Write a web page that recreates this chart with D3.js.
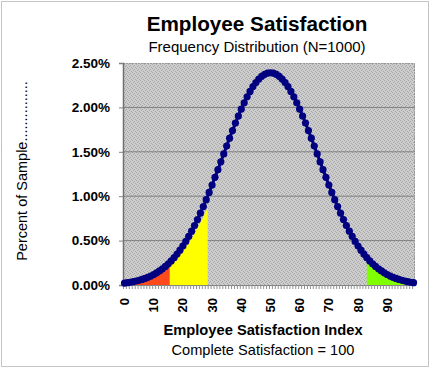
<!DOCTYPE html>
<html>
<head>
<meta charset="utf-8">
<script src="https://cdn.jsdelivr.net/npm/d3@7"></script>
<style>
  body { margin: 0; background: #fff; }
  svg { display: block; font-family: Arial, "Liberation Sans", sans-serif; }
</style>
</head>
<body>
<script>
// satisfaction index categories 0..99
index = [0,1,2,3,4,5,6,7,8,9,10,11,12,13,14,15,16,17,18,19,20,21,22,23,24,25,26,27,28,29,
  30,31,32,33,34,35,36,37,38,39,40,41,42,43,44,45,46,47,48,49,50,51,52,53,54,55,56,57,58,59,
  60,61,62,63,64,65,66,67,68,69,70,71,72,73,74,75,76,77,78,79,80,81,82,83,84,85,86,87,88,89,
  90,91,92,93,94,95,96,97,98,99];

// percent of sample
percent = [0.022,0.026,0.031,0.037,0.045,0.053,0.063,0.074,0.086,0.101,
  0.118,0.137,0.158,0.182,0.209,0.238,0.271,0.308,0.348,0.392,
  0.439,0.491,0.547,0.606,0.670,0.737,0.809,0.883,0.961,1.042,
  1.126,1.212,1.299,1.387,1.476,1.565,1.653,1.739,1.823,1.903,
  1.980,2.052,2.119,2.180,2.234,2.280,2.319,2.350,2.372,2.386,
  2.390,2.386,2.372,2.350,2.319,2.280,2.234,2.180,2.119,2.052,
  1.980,1.903,1.823,1.739,1.653,1.565,1.476,1.387,1.299,1.212,
  1.126,1.042,0.961,0.883,0.809,0.737,0.670,0.606,0.547,0.491,
  0.439,0.392,0.348,0.308,0.271,0.238,0.209,0.182,0.158,0.137,
  0.118,0.101,0.086,0.074,0.063,0.053,0.045,0.037,0.031,0.026];

// shaded bands (first category + heights)
redFrom = 4;
redFill = [0.030,0.042,0.050,0.060,0.070,0.082,0.096,0.112,0.130,0.150,0.172,0.198,0.226];
yellowFrom = 15.5;
yellowFill = [0.25,0.26,0.29,0.32,0.36,0.40,0.45,0.50,0.55,0.61,0.67,0.73,0.80,0.87];
greenFrom = 83;
greenFill = [0.27,0.23,0.20,0.17,0.15,0.13,0.11,0.09,0.075,0.06,0.05,0.04,0.03,0.02];

yTicks = [0, 0.5, 1.0, 1.5, 2.0, 2.5];
xLabels = [0,10,20,30,40,50,60,70,80,90];

w = 430;
h = 368;
margin = {top: 63, right: 15, bottom: 83, left: 123};

svg = d3.select("body")
  .append("svg")
    .attr("width", w)
    .attr("height", h);

// dithered grey of the plot area
defs = svg.append("defs");
pat = defs.append("pattern")
  .attr("id", "dots")
  .attr("width", 4).attr("height", 4)
  .attr("patternUnits", "userSpaceOnUse");
pat.append("rect").attr("width", 4).attr("height", 4).attr("fill", "#cdcdcd");
[[0,0],[2,1],[1,2],[3,3]].forEach(p => {
  pat.append("rect").attr("x", p[0]).attr("y", p[1])
    .attr("width", 1).attr("height", 1).attr("fill", "#a6a6a6");
});

// outer border
svg.append("rect")
  .attr("x", 1.5).attr("y", 1.5)
  .attr("width", w - 3).attr("height", h - 3)
  .attr("fill", "none")
  .attr("stroke", "#888")
  .attr("stroke-dasharray", "1,1");

x = d3.scaleBand()
  .domain(index)
  .range([margin.left, w - margin.right]);

y = d3.scaleLinear()
  .domain([0, 2.5])
  .range([h - margin.bottom, margin.top]);

cx = (i) => x(Math.floor(i)) + x.bandwidth() * (0.5 + i - Math.floor(i));

// plot area
svg.append("rect")
  .attr("x", margin.left).attr("y", margin.top)
  .attr("width", w - margin.left - margin.right)
  .attr("height", h - margin.top - margin.bottom)
  .attr("fill", "url(#dots)");

// gridlines
svg.append("g")
  .selectAll("line")
  .data(yTicks.slice(1, 5))
  .enter()
  .append("line")
    .attr("x1", margin.left).attr("x2", w - margin.right)
    .attr("y1", d => y(d)).attr("y2", d => y(d))
    .attr("stroke", "#808080");

// top/right border of plot
svg.append("path")
  .attr("d", "M" + margin.left + "," + (margin.top + 0.5) + "H" + (w - margin.right - 0.5) + "V" + (h - margin.bottom))
  .attr("fill", "none")
  .attr("stroke", "#999")
  .attr("stroke-dasharray", "2,1");

// shaded areas
area = d3.area()
  .x(d => cx(d.i))
  .y0(y(0))
  .y1(d => y(d.v));

function band(from, vals, color) {
  data = vals.map((v, k) => ({i: from + k, v: v}));
  svg.append("path")
    .datum(data)
    .attr("d", area)
    .attr("fill", color);
}
band(redFrom, redFill, "#ff4a1c");
band(yellowFrom, yellowFill, "#ffff00");
band(greenFrom, greenFill, "#80ff00");

// axes
xAxis = svg.append("g")
  .attr("transform", "translate(0," + y(0) + ")")
  .call(d3.axisBottom(x).tickValues([]).tickSizeOuter(0));
xAxis.select(".domain").attr("stroke", "#808080").attr("stroke-width", 1.2);

// minor ticks between categories
svg.append("g")
  .selectAll("line")
  .data(index)
  .enter()
  .append("line")
    .attr("x1", d => x(d) + 0.5).attr("x2", d => x(d) + 0.5)
    .attr("y1", y(0)).attr("y2", y(0) + 4)
    .attr("stroke", "#909090");

xAxis.selectAll(".lab")
  .data(xLabels)
  .enter()
  .append("text")
    .attr("class", "lab")
    .attr("transform", d => "translate(" + (cx(d) + 4.5) + ",13) rotate(-90)")
    .attr("text-anchor", "end")
    .attr("font-size", 13)
    .attr("font-weight", "bold")
    .attr("fill", "#000")
    .text(d => d);

yAxis = svg.append("g")
  .attr("transform", "translate(" + margin.left + ",0)")
  .call(d3.axisLeft(y).tickValues(yTicks).tickSize(4).tickPadding(9)
    .tickFormat(d => d.toFixed(2) + "%"));
yAxis.select(".domain").attr("stroke", "#707070").attr("stroke-width", 1.5);
yAxis.selectAll(".tick line").attr("stroke", "#808080");
yAxis.selectAll("text")
  .attr("font-size", 13.5)
  .attr("font-weight", "bold")
  .attr("font-family", "Arial, 'Liberation Sans', sans-serif")
  .attr("fill", "#000");

// curve
line = d3.line()
  .x((d, i) => cx(index[i]))
  .y(d => y(d));

svg.append("path")
  .datum(percent)
  .attr("d", line)
  .attr("fill", "none")
  .attr("stroke", "#000080")
  .attr("stroke-width", 3);

svg.append("g")
  .selectAll("circle")
  .data(percent)
  .enter()
  .append("circle")
    .attr("cx", (d, i) => cx(index[i]))
    .attr("cy", d => y(d))
    .attr("r", 3.6)
    .attr("fill", "#000080");

// titles
svg.append("text")
  .attr("x", 257).attr("y", 31)
  .attr("text-anchor", "middle")
  .attr("font-size", 20.7)
  .attr("font-weight", "bold")
  .text("Employee Satisfaction");

svg.append("text")
  .attr("x", 257).attr("y", 52)
  .attr("text-anchor", "middle")
  .attr("font-size", 15)
  .text("Frequency Distribution (N=1000)");

svg.append("text")
  .attr("transform", "translate(27,171) rotate(-90)")
  .attr("text-anchor", "middle")
  .attr("font-size", 14.5)
  .text("Percent of Sample...............");

svg.append("text")
  .attr("x", 263).attr("y", 335)
  .attr("text-anchor", "middle")
  .attr("font-size", 14.7)
  .attr("font-weight", "bold")
  .text("Employee Satisfaction Index");

svg.append("text")
  .attr("x", 263).attr("y", 355)
  .attr("text-anchor", "middle")
  .attr("font-size", 14.6)
  .text("Complete Satisfaction = 100");
</script>
</body>
</html>
